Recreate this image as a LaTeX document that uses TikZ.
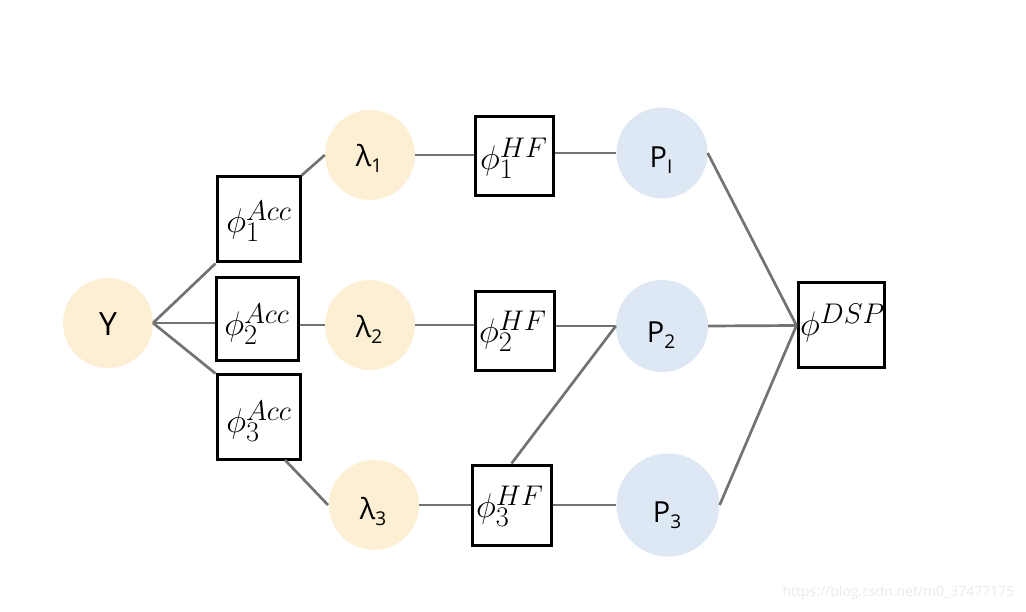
\documentclass[tikz,border=0pt]{standalone}
\usepackage{fontspec}
\newfontfamily\labfont{Open Sans}
\definecolor{orangefill}{HTML}{FDEFD4}
\definecolor{bluefill}{HTML}{DEE8F4}
\definecolor{linegray}{HTML}{737373}
\definecolor{wmgray}{HTML}{EAEAEA}
\newcommand{\bigphimath}[1]{\scalebox{1.37}{\fontsize{24.88}{30}\selectfont$#1$}}
\newcommand{\subnum}[1]{\raisebox{-6pt}{\fontsize{19}{19}\selectfont #1}}
\begin{document}
\begin{tikzpicture}[x=1pt,y=-1pt,
  orangec/.style={circle,fill=orangefill,draw=none,minimum size=90pt,inner sep=0pt},
  bluec/.style={circle,fill=bluefill,draw=none,inner sep=0pt},
  lab/.style={font=\labfont\fontsize{29}{32}\selectfont},
  mlab/.style={inner sep=0pt},
  fbox/.style={draw=black,line width=3pt,inner sep=0pt},
  conn/.style={draw=linegray,line width=2.7pt}]
\useasboundingbox (0,0) rectangle (1026,612);
% circles
\node[orangec] (Y) at (108,323) {};
\node[font=\labfont\fontsize{32}{34}\selectfont] (Ylab) at (108,324) {Y};
\node[orangec] (l1) at (370,155) {};
\node[orangec] (l2) at (370,325) {};
\node[orangec] (l3) at (374,505) {};
\node[lab] (l1t) at (369,158) {λ\subnum{1}};
\node[lab] (l2t) at (369,329) {λ\subnum{2}};
\node[lab] (l3t) at (373,511) {λ\subnum{3}};
\node[bluec,minimum size=91pt] (p1) at (662,153) {};
\node[bluec,minimum size=92pt] (p2) at (662,326) {};
\node[bluec,minimum size=103pt] (p3) at (668,505) {};
\node[lab] (p1t) at (661,160) {P\subnum{I}};
\node[lab] (p2t) at (661,335) {P\subnum{2}};
\node[lab] (p3t) at (667,515) {P\subnum{3}};
% boxes
\node[fbox,minimum width=83pt,minimum height=85pt] (a1) at (258.5,219.5) {};
\node[fbox,minimum width=82pt,minimum height=83pt] (a2) at (257,319.5) {};
\node[fbox,minimum width=83pt,minimum height=84pt] (a3) at (258.5,417) {};
\node[mlab] (a1t) at (259,221) {\bigphimath{\phi_1^{Acc}}};
\node[mlab] (a2t) at (257,324) {\bigphimath{\phi_2^{Acc}}};
\node[mlab] (a3t) at (259,421) {\bigphimath{\phi_3^{Acc}}};
\node[fbox,minimum width=78pt,minimum height=79pt] (h1) at (514,156.5) {};
\node[fbox,minimum width=79pt,minimum height=79pt] (h2) at (514.5,331.5) {};
\node[fbox,minimum width=79pt,minimum height=80pt] (h3) at (511.5,505) {};
\node[mlab] (h1t) at (514,158) {\bigphimath{\phi_1^{HF}}};
\node[mlab] (h2t) at (513,331) {\bigphimath{\phi_2^{HF}}};
\node[mlab] (h3t) at (510,506) {\bigphimath{\phi_3^{HF}}};
\node[fbox,minimum width=86pt,minimum height=85pt] (d) at (841,325.5) {};
\node[mlab,anchor=west] (dt) at (800,323) {\bigphimath{\phi^{DSP}}};
% connectors
\coordinate (Yr) at (153,323);
\draw[conn] (Yr) -- (a1.south west);
\draw[conn] (Yr) -- (a2.west |- Yr);
\draw[conn] (Yr) -- (a3.north west);
\draw[conn] (a1.north east) -- (l1.west);
\draw[conn] (a2.east |- l2.west) -- (l2.west);
\coordinate (a3b) at (285,460);
\coordinate (l3w) at (328,505);
\draw[conn] (a3b) -- (l3w);
\draw[conn] (l1.east) -- (h1.west |- l1.east);
\draw[conn] (h1.east |- p1.west) -- (p1.west);
\draw[conn] (l2.east) -- (h2.west |- l2.east);
\draw[conn] (h2.east |- p2.west) -- (p2.west);
\draw[conn] (l3.east) -- (h3.west);
\draw[conn] (h3.east) -- (p3.west |- h3.east);
\draw[conn] (h3.north) -- (p2.west);
\draw[conn] (p1.east) -- (d.west);
\draw[conn] (p2.east) -- (d.west);
\draw[conn] (p3.east) -- (d.west);
% watermark
\node[font=\fontsize{14}{16}\selectfont\labfont,text=wmgray,anchor=east] (wm) at (1018,593) {https://blog.csdn.net/m0\_37477175};
\end{tikzpicture}
\end{document}
